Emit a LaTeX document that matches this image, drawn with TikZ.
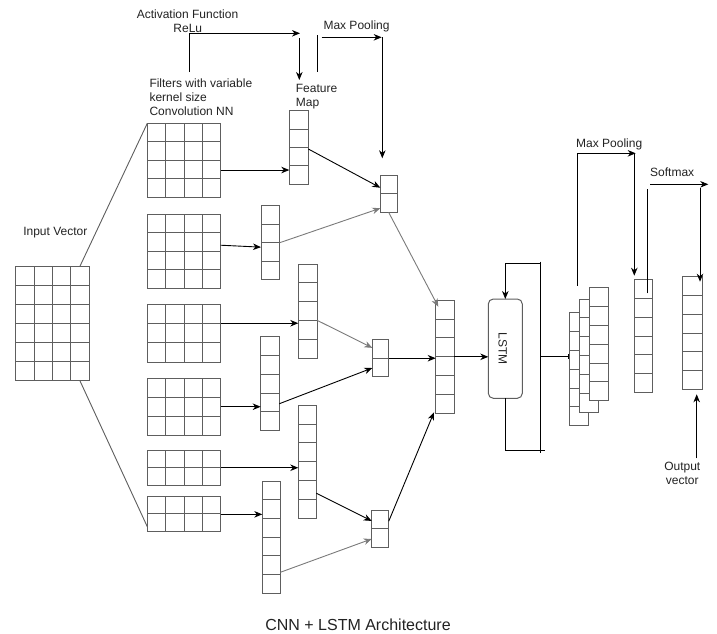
\documentclass[tikz,border=0pt]{standalone}
\usepackage{fontspec}
\setmainfont{Liberation Sans}
\usetikzlibrary{fit,calc,arrows.meta}
\definecolor{gridc}{HTML}{5E5E5E}
\definecolor{grayarr}{HTML}{7A7A7A}
\definecolor{txtc}{HTML}{222222}
\tikzset{
  gridnode/.style={draw=gridc, line width=1pt, inner sep=0pt, outer sep=0pt, fill=white},
  gridline/.style={draw=gridc, line width=1pt},
  conn/.style={draw=black, line width=0.9pt},
  arr/.style={conn, -{Stealth[length=8pt,width=6.5pt,inset=2.5pt]}},
  garr/.style={arr, draw=grayarr},
  lbl/.style={font=\fontsize{12}{13.8}\selectfont, inner sep=0pt, text=txtc},
}
\newcommand{\mkgrid}[7]{%
  \node[gridnode, fit={(#2,#3) (#4,#5)}] (#1) {};
  \ifnum#6>1\relax
    \foreach \k in {2,...,#6}{%
      \pgfmathsetmacro\mkfr{(\k-1)/#6}%
      \draw[gridline] ($(#1.north west)!\mkfr!(#1.north east)$) -- ($(#1.south west)!\mkfr!(#1.south east)$);}%
  \fi
  \ifnum#7>1\relax
    \foreach \k in {2,...,#7}{%
      \pgfmathsetmacro\mkfr{(\k-1)/#7}%
      \draw[gridline] ($(#1.north west)!\mkfr!(#1.south west)$) -- ($(#1.north east)!\mkfr!(#1.south east)$);}%
  \fi
}
\begin{document}
\begin{tikzpicture}[x=1pt,y=-1pt]
\useasboundingbox (0,0) rectangle (717,633);

% ---------- grids ----------
\mkgrid{IN}{15.7}{266.7}{89.3}{380.3}{4}{6}
\mkgrid{F1}{147.3}{123.3}{220.7}{197.3}{4}{4}
\mkgrid{F2}{147.3}{214}{220.7}{288.3}{4}{4}
\mkgrid{F3}{147.3}{304.3}{220.7}{362.3}{4}{3}
\mkgrid{F4}{147.3}{378.3}{220.7}{435.7}{4}{3}
\mkgrid{F5}{147.3}{450.3}{220.7}{485}{4}{2}
\mkgrid{F6}{147.3}{496.7}{220.7}{531}{4}{2}
\mkgrid{FM1}{289.3}{110.7}{308.3}{184.3}{1}{4}
\mkgrid{FM2}{261}{205.7}{279.7}{279.7}{1}{4}
\mkgrid{FM3}{298.3}{264}{317.3}{358}{1}{5}
\mkgrid{FM4}{260.7}{336.7}{279.3}{430.7}{1}{5}
\mkgrid{FM5}{298.3}{405.3}{316.3}{518}{1}{6}
\mkgrid{FM6}{262.3}{481.3}{280.3}{593.3}{1}{6}
\mkgrid{P1}{380.3}{175.3}{397}{212.3}{1}{2}
\mkgrid{P2}{372.3}{339.7}{388.7}{376.7}{1}{2}
\mkgrid{P3}{371.7}{510.3}{388.7}{547}{1}{2}
\mkgrid{C}{435.7}{300.3}{454.3}{413.3}{1}{6}
\mkgrid{S1}{569.3}{312.7}{588.3}{425.7}{1}{6}
\mkgrid{S2}{579.7}{299}{598}{412.7}{1}{6}
\mkgrid{S3}{589.7}{287.7}{608.7}{400.7}{1}{6}
\mkgrid{M2}{634.3}{279.3}{652.7}{392.7}{1}{6}
\mkgrid{M3}{682.7}{276.7}{702.3}{389.3}{1}{6}

% LSTM
\node[draw=gridc, line width=1pt, rounded corners=5pt, inner sep=0pt, outer sep=0pt,
      fit={(488.3,299) (522.3,398.3)}] (LSTM) {};
\node[lbl, rotate=-90] (LSTMt) at ($(LSTM.center)+(-2.5,0)$) {LSTM};

% ---------- labels ----------
\node[lbl] (tAF) at (187.5,14) {Activation Function};
\node[lbl] (tRL) at (187.8,28) {ReLu};
\node[lbl, anchor=west, align=left] (tFL) at (149.3,97) {Filters with variable\\kernel size\\Convolution NN};
\node[lbl, anchor=west, align=left] (tFM) at (295.7,96.7) {Feature\\Map};
\node[lbl, anchor=west] (tMP1) at (323.3,26.7) {Max Pooling};
\node[lbl, anchor=west] (tMP2) at (576,144) {Max Pooling};
\node[lbl, anchor=west] (tSM) at (650,172.7) {Softmax};
\node[lbl, align=center] (tOV) at (682.3,473.3) {Output\\vector};
\node[lbl] (tIV) at (55.3,232.3) {Input Vector};
\node[font=\fontsize{16}{18}\selectfont, inner sep=0pt, text=txtc] (cap) at (358,624.5) {CNN + LSTM Architecture};

% ---------- input to filters ----------
\draw[conn, draw=gridc] ($(IN.north west)!0.87!(IN.north east)$) -- (F1.north west);
\draw[conn, draw=gridc] ($(IN.south west)!0.87!(IN.south east)$) -- ($(F6.north west)!0.875!(F6.south west)$);

% ---------- filters to feature maps ----------
\coordinate (a1) at ($(FM1.north west)!0.806!(FM1.south west)$);
\draw[arr] (F1.east |- a1) -- (a1);
\coordinate (a2) at ($(FM2.north west)!0.56!(FM2.south west)$);
\coordinate (b2) at ($(F2.north east)!0.42!(F2.south east)$);
\draw[arr] (b2) -- (a2);
\coordinate (a3) at ($(FM3.north west)!0.63!(FM3.south west)$);
\draw[arr] (F3.east |- a3) -- (a3);
\coordinate (a4) at ($(FM4.north west)!0.745!(FM4.south west)$);
\draw[arr] (F4.east |- a4) -- (a4);
\coordinate (a5) at ($(FM5.north west)!0.554!(FM5.south west)$);
\draw[arr] (F5.east |- a5) -- (a5);
\coordinate (a6) at ($(FM6.north west)!0.295!(FM6.south west)$);
\draw[arr] (F6.east |- a6) -- (a6);

% ---------- feature maps to pooled ----------
\draw[arr] ($(FM1.north east)!0.52!(FM1.south east)$) -- ($(P1.north west)!0.335!(P1.south west)$);
\draw[garr] (FM2.east) -- ($(P1.north west)!0.89!(P1.south west)$);
\draw[garr] ($(FM3.north east)!0.6!(FM3.south east)$) -- ($(P2.north west)!0.22!(P2.south west)$);
\draw[arr] ($(FM4.north east)!0.713!(FM4.south east)$) -- ($(P2.north west)!0.765!(P2.south west)$);
\draw[arr] ($(FM5.north east)!0.78!(FM5.south east)$) -- ($(P3.north west)!0.29!(P3.south west)$);
\draw[garr] ($(FM6.north east)!0.8125!(FM6.south east)$) -- ($(P3.north west)!0.78!(P3.south west)$);

% ---------- pooled to concat ----------
\draw[garr] (P1.south) -- ($(C.north west)+(2.6,6.4)$);
\draw[arr] (P2.east) -- (C.west |- P2.east);
\draw[arr] ($(P3.north east)!0.3!(P3.south east)$) -- ($(C.south west)+(-1.7,-1)$);

% ---------- concat to LSTM ----------
\draw[arr] (C.east) -- (LSTM.west |- C.east);

% ---------- LSTM loop ----------
\coordinate (lt) at ($(LSTM.north)+(0,-35.7)$);
\coordinate (vt) at (540,261.7);
\coordinate (vb) at (540,453.3);
\coordinate (lb) at (545,450.7);
\draw[arr] (lt) -- (LSTM.north);
\draw[conn] (lt) -- (vt |- lt);
\draw[conn] (vt) -- (vb);
\draw[conn] (LSTM.south) -- (LSTM.south |- lb) -- (lb);
\draw[conn, -{Bar[width=5pt]}] (vt |- C.east) -- (S1.west |- C.east);

% ---------- top annotations ----------
\coordinate (af1) at (189.3,72);
\coordinate (af2) at (189.3,33.3);
\coordinate (af3) at (300,33.3);
\coordinate (af4) at (299.3,38.3);
\coordinate (af5) at (299.3,80);
\draw[arr] (af1) -- (af2) -- (af3);
\draw[arr] (af4) -- (af5);
\coordinate (mp1a) at (317.3,71.7);
\coordinate (mp1b) at (317.3,35);
\coordinate (mp1c) at (321.7,37.3);
\coordinate (mp1d) at (381.7,37.3);
\coordinate (mp1e) at (382.3,37);
\coordinate (mp1f) at (382.3,158.3);
\draw[conn] (mp1a) -- (mp1b);
\draw[arr] (mp1c) -- (mp1d);
\draw[arr] (mp1e) -- (mp1f);

% ---------- second max pooling ----------
\coordinate (mp2a) at (577,285.7);
\coordinate (mp2b) at (577,153.3);
\coordinate (mp2c) at (635.7,153.3);
\draw[arr] (mp2a) -- (mp2b) -- (mp2c);
\draw[arr] ($(M2.north west)+(0,-126)$) -- ($(M2.north west)+(0,-3.6)$);

% ---------- softmax ----------
\coordinate (sm1) at (647.7,293.3);
\coordinate (sm2) at (647.7,189.3);
\coordinate (sm3) at (650,184.3);
\coordinate (sm4) at (708.3,184.3);
\coordinate (sm5) at (700,188.3);
\coordinate (sm6) at (700,281.7);
\draw[conn] (sm1) -- (sm2);
\draw[arr] (sm3) -- (sm4);
\draw[arr] (sm5) -- (sm6);

% ---------- output ----------
\coordinate (ov1) at (696.7,458.3);
\coordinate (ov2) at (696.7,394.3);
\draw[arr] (ov1) -- (ov2);
\end{tikzpicture}
\end{document}
